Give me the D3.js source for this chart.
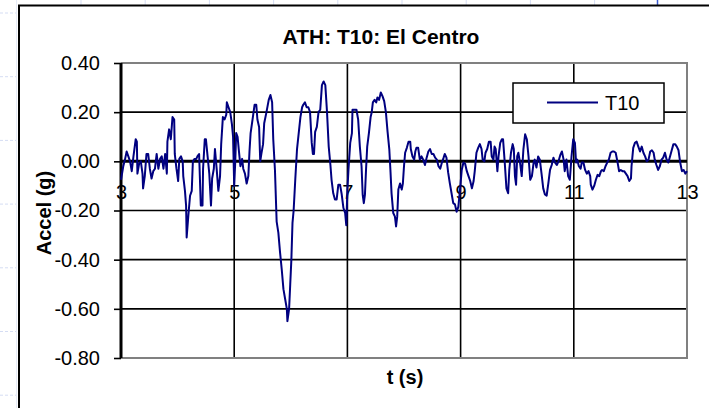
<!DOCTYPE html>
<html>
<head>
<meta charset="utf-8">
<script src="https://cdn.jsdelivr.net/npm/d3@7"></script>
<style>
  html, body { margin: 0; padding: 0; background: #fff; overflow: hidden; }
  svg { display: block; font-family: "Liberation Sans", Arial, sans-serif; }
</style>
</head>
<body>
<svg id="chart" width="709" height="408"></svg>
<script>
// Chart text
const chartTitle = "ATH: T10: El Centro";
const seriesName = "T10";
const xTitle = "t (s)";
const yTitle = "Accel (g)";

// Axis ticks
const xTicks = [3, 5, 7, 9, 11, 13];
const yTicks = [0.4, 0.2, 0, -0.2, -0.4, -0.6, -0.8];

// Ground acceleration record: time (s) and acceleration (g)
const timeS = [
  3.00,3.04,3.07,3.10,3.13,3.16,3.19,3.22,3.26,3.28,3.29,3.32,3.35,3.38,3.39,3.42,3.45,3.48,3.51,3.54,
  3.57,3.60,3.63,3.66,3.69,3.72,3.75,3.78,3.81,3.82,3.85,3.88,3.91,3.94,3.95,3.98,4.01,4.03,4.06,4.09,
  4.10,4.13,4.15,4.16,4.19,4.22,4.25,4.27,4.30,4.33,4.35,4.38,4.41,4.44,4.45,4.48,4.50,4.53,4.56,4.59,
  4.61,4.64,4.66,4.69,4.72,4.75,4.77,4.80,4.83,4.86,4.87,4.90,
  4.93,4.96,4.98,5.00,5.02,5.035,5.06,5.08,5.11,5.14,5.16,5.19,5.22,5.25,5.27,5.29,5.33,5.36,5.39,5.41,
  5.44,5.46,5.48,5.51,5.53,5.57,5.61,5.64,5.67,5.69,5.72,5.75,5.78,5.81,5.84,5.87,5.90,5.93,5.94,5.97,
  5.99,6.01,6.03,6.05,6.08,6.11,6.14,6.17,6.20,6.22,6.25,6.28,6.31,6.34,6.37,6.39,6.41,6.43,6.46,6.49,
  6.52,6.55,6.58,6.61,6.64,6.67,6.70,6.72,6.75,6.78,6.81,6.84,6.87,6.90,6.93,6.96,6.98,
  7.00,7.02,7.05,7.08,7.09,7.13,7.16,7.19,7.22,7.25,7.27,7.29,7.31,7.33,7.35,7.38,7.41,7.43,7.45,7.48,
  7.51,7.53,7.56,7.59,7.62,7.65,7.68,7.71,7.74,7.76,7.78,7.81,7.84,7.86,7.88,7.90,7.93,7.96,7.98,8.00,
  8.02,8.05,8.08,8.11,8.12,8.15,8.18,8.20,8.22,8.25,8.28,8.31,8.34,8.37,8.40,8.43,8.46,8.49,8.52,8.55,
  8.58,8.61,8.64,8.67,8.70,8.72,8.75,8.78,8.81,8.84,8.87,8.90,8.93,8.96,8.99,
  9.02,9.05,9.08,9.11,9.14,9.17,9.20,9.23,9.25,9.28,9.31,9.34,9.37,9.39,9.42,9.44,9.47,9.50,9.53,9.55,
  9.58,9.60,9.62,9.65,9.67,9.70,9.73,9.75,9.78,9.81,9.84,9.86,9.89,9.92,9.94,9.96,9.98,10.00,10.02,10.05,
  10.08,10.11,10.14,10.17,10.20,10.23,10.26,10.29,10.31,10.34,10.37,10.40,10.43,10.46,10.49,10.52,10.55,10.58,10.61,10.64,
  10.67,10.70,10.73,10.76,10.79,10.82,10.84,10.87,10.90,10.93,10.96,
  10.99,11.02,11.04,11.06,11.09,11.12,11.14,11.17,11.20,11.23,11.26,11.29,11.30,11.33,11.36,11.39,11.42,11.45,11.48,11.50,
  11.53,11.56,11.59,11.62,11.65,11.68,11.71,11.74,11.77,11.80,11.83,11.86,11.89,11.92,11.95,11.98,12.01,12.02,12.05,12.08,
  12.11,12.14,12.17,12.20,12.23,12.26,12.29,12.32,12.35,12.38,12.41,12.43,12.46,12.49,12.52,12.55,12.58,12.61,12.64,12.67,
  12.70,12.73,12.76,12.79,12.82,12.85,12.88,12.91,12.94,12.97,13.00
];
const accelG = [
  -0.075,-0.02,0.007,0.04,0.02,0.0,-0.04,0.02,0.09,0.08,-0.05,-0.01,0.0,-0.05,-0.11,-0.06,0.03,0.03,-0.03,-0.07,
  -0.04,-0.03,0.03,-0.03,0.01,0.02,-0.03,0.03,-0.05,0.08,0.13,0.09,0.18,0.17,0.03,-0.03,-0.08,0.01,0.02,0.0,
  -0.06,-0.12,-0.18,-0.31,-0.22,-0.14,-0.12,0.0,0.01,0.01,0.02,0.03,-0.18,-0.18,-0.03,0.09,0.09,0.02,-0.05,-0.18,
  -0.07,-0.03,0.05,-0.03,-0.12,-0.06,0.07,0.18,0.17,0.19,0.24,0.22,
  0.20,0.15,0.10,-0.10,0.007,0.115,0.10,0.05,-0.02,0.01,-0.03,-0.05,-0.09,-0.06,0.04,0.115,0.18,0.23,0.23,0.17,
  0.14,0.0,0.03,0.07,0.155,0.20,0.25,0.27,0.24,0.09,-0.035,-0.245,-0.29,-0.37,-0.44,-0.52,-0.56,-0.60,-0.65,-0.60,
  -0.50,-0.40,-0.25,-0.20,-0.07,0.05,0.115,0.18,0.22,0.23,0.24,0.22,0.22,0.20,0.075,0.03,0.03,0.12,0.14,0.20,
  0.21,0.31,0.325,0.31,0.20,0.06,-0.015,-0.075,-0.13,-0.155,-0.155,-0.095,-0.095,-0.135,-0.19,-0.21,-0.26,
  -0.115,-0.03,0.075,0.115,0.21,0.21,0.21,0.17,0.06,-0.02,-0.135,-0.17,-0.135,-0.03,0.06,0.115,0.18,0.20,0.24,0.25,
  0.24,0.26,0.25,0.28,0.265,0.245,0.20,0.12,0.05,-0.035,-0.13,-0.21,-0.225,-0.265,-0.225,-0.115,-0.09,-0.115,-0.09,-0.02,
  0.035,0.055,0.08,0.08,0.05,0.02,0.007,0.04,0.055,0.055,0.007,0.02,0.007,-0.015,0.015,0.04,0.05,0.03,0.03,0.015,
  0.007,-0.02,-0.03,-0.005,0.015,0.03,0.015,-0.045,-0.09,-0.13,-0.17,-0.175,-0.205,-0.185,-0.115,
  -0.035,-0.005,-0.01,-0.04,-0.06,-0.08,-0.11,-0.08,-0.04,0.035,0.055,0.07,0.05,0.007,0.0,0.035,0.05,0.08,0.08,0.02,
  0.007,0.06,0.05,-0.04,0.02,0.075,0.09,0.09,-0.005,-0.11,-0.13,-0.035,0.035,0.07,0.05,-0.06,-0.095,0.02,0.035,-0.005,
  -0.06,0.05,0.11,0.09,0.02,-0.075,-0.06,-0.005,0.007,-0.025,0.02,0.007,-0.05,-0.11,-0.135,-0.14,-0.09,-0.035,-0.015,0.015,
  -0.005,-0.015,0.0,0.025,0.04,0.007,-0.04,0.007,-0.06,-0.075,0.02,
  0.09,0.075,-0.005,0.007,-0.02,-0.03,-0.005,-0.005,-0.035,-0.05,-0.04,-0.06,-0.095,-0.115,-0.10,-0.075,-0.055,-0.06,-0.04,-0.035,
  -0.04,-0.02,-0.005,0.007,0.035,0.04,0.04,0.035,0.0,-0.04,-0.035,-0.04,-0.04,-0.05,-0.06,-0.08,-0.07,-0.02,0.055,0.075,
  0.08,0.06,0.04,0.06,0.035,0.02,0.0,0.007,0.04,0.045,0.035,0.007,-0.015,-0.035,-0.02,0.007,0.015,0.035,0.007,-0.005,
  0.02,0.045,0.07,0.07,0.06,0.045,-0.005,-0.04,-0.035,-0.05,-0.04
];

const W = 709, H = 408;
const svg = d3.select("#chart");
const plot = { left: 121, right: 687, top: 63, bottom: 358 };

const x = d3.scaleLinear().domain([3, 13]).range([plot.left, plot.right]);
const y = d3.scaleLinear().domain([-0.8, 0.4]).range([plot.bottom, plot.top]);

// Worksheet cells showing around the embedded chart
const sheet = svg.append("g");
d3.range(13, H, 63.7).forEach(yy => {
  sheet.append("line").attr("x1", 0).attr("x2", 17).attr("y1", yy).attr("y2", yy)
    .attr("stroke", "#d5ddf3").attr("stroke-dasharray", "3,2");
});
sheet.append("line").attr("x1", 16.5).attr("x2", 16.5).attr("y1", 0).attr("y2", H)
  .attr("stroke", "#e6ebf7");
d3.range(81, 640, 64.2).forEach(xx => {
  sheet.append("line").attr("x1", xx).attr("x2", xx).attr("y1", 0).attr("y2", 5)
    .attr("stroke", "#d5ddf3");
});
sheet.append("line").attr("x1", 657.5).attr("x2", 657.5).attr("y1", 0).attr("y2", 8)
  .attr("stroke", "#3a5bd0").attr("stroke-width", 1.5);

// Chart area frame
svg.append("rect").attr("x", 19).attr("y", 5.5).attr("width", 780).attr("height", 480)
  .attr("fill", "#fff").attr("stroke", "#000").attr("stroke-width", 2);

// Title
svg.append("text").attr("x", 381).attr("y", 44).attr("text-anchor", "middle")
  .attr("font-size", 21).attr("font-weight", "bold").text(chartTitle);

// Gridlines
const grid = svg.append("g");
grid.selectAll("line.v").data(xTicks.filter(d => d > 3 && d < 13)).join("line")
  .attr("x1", d => x(d)).attr("x2", d => x(d)).attr("y1", plot.top).attr("y2", plot.bottom)
  .attr("stroke", "#000").attr("stroke-width", 1.6);
grid.selectAll("line.h").data(yTicks.filter(d => d !== 0 && d !== 0.4 && d !== -0.8)).join("line")
  .attr("x1", plot.left).attr("x2", plot.right).attr("y1", d => y(d)).attr("y2", d => y(d))
  .attr("stroke", "#000").attr("stroke-width", 1.6);

// Plot area border (grey)
svg.append("path")
  .attr("d", `M${plot.left},${plot.top}H${plot.right}V${plot.bottom}H${plot.left}`)
  .attr("fill", "none").attr("stroke", "#808080").attr("stroke-width", 2);

// Y axis with tick labels
const yAxis = svg.append("g").attr("transform", `translate(${plot.left},0)`)
  .call(d3.axisLeft(y).tickValues(yTicks).tickFormat(d => d.toFixed(2)).tickSize(7).tickPadding(14));
yAxis.select(".domain").attr("stroke", "#000").attr("stroke-width", 3).attr("d", `M0,${plot.top}V${plot.bottom}`);
yAxis.selectAll(".tick line").attr("stroke", "#000").attr("stroke-width", 1.6);
yAxis.selectAll("text").attr("font-size", 20).attr("fill", "#000")
  .attr("font-family", "'Liberation Sans', Arial, sans-serif");

// X axis crossing at zero
const xAxis = svg.append("g").attr("transform", `translate(0,${y(0)})`)
  .call(d3.axisBottom(x).tickValues(xTicks).tickFormat(d3.format("d")).tickSize(0).tickPadding(23));
xAxis.select(".domain").attr("stroke", "#000").attr("stroke-width", 3)
  .attr("d", `M${plot.left},0H${plot.right}`);
xAxis.selectAll("text").attr("font-size", 20).attr("fill", "#000")
  .attr("font-family", "'Liberation Sans', Arial, sans-serif");

// Acceleration trace
const series = timeS.map((t, i) => [t, accelG[i]]);
svg.append("path").datum(series)
  .attr("fill", "none").attr("stroke", "#000080").attr("stroke-width", 2)
  .attr("stroke-linejoin", "round")
  .attr("d", d3.line().x(d => x(d[0])).y(d => y(d[1])));

// Axis titles
svg.append("text").attr("transform", `translate(51,213) rotate(-90)`)
  .attr("text-anchor", "middle").attr("font-size", 20).attr("font-weight", "bold").text(yTitle);
svg.append("text").attr("x", 405).attr("y", 384).attr("text-anchor", "middle")
  .attr("font-size", 20).attr("font-weight", "bold").text(xTitle);

// Legend
const legend = svg.append("g").attr("transform", "translate(513,83)");
legend.append("rect").attr("width", 151).attr("height", 40)
  .attr("fill", "#fff").attr("stroke", "#000").attr("stroke-width", 1.5);
legend.append("line").attr("x1", 34).attr("x2", 85).attr("y1", 19.5).attr("y2", 19.5)
  .attr("stroke", "#000080").attr("stroke-width", 2);
legend.append("text").attr("x", 92).attr("y", 27).attr("font-size", 20).text(seriesName);
</script>
</body>
</html>
